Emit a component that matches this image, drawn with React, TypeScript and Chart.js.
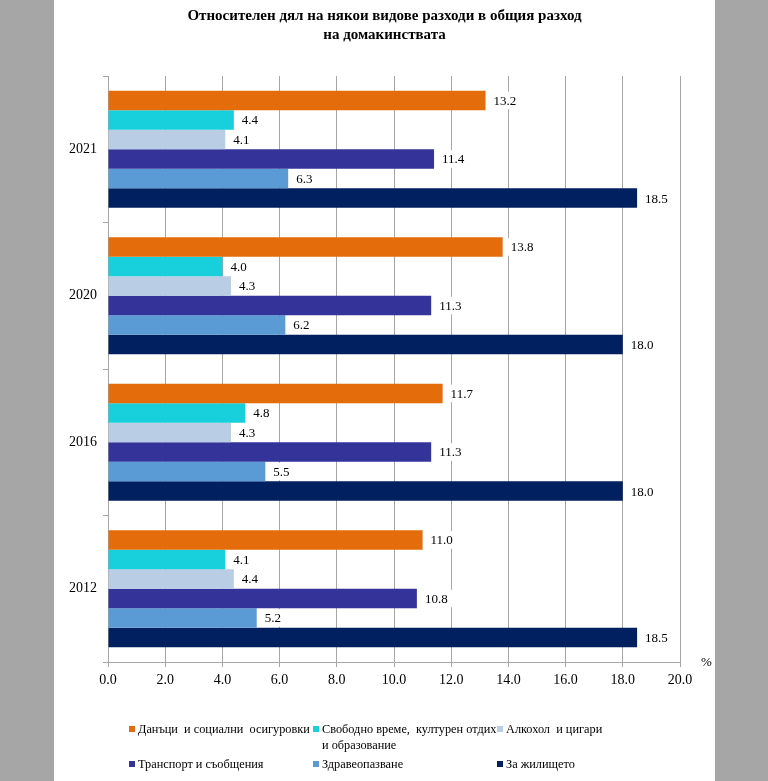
import React, { useEffect, useRef } from "react";
import { Chart, registerables } from "chart.js";

Chart.register(...registerables);

const categories = ["2021", "2020", "2016", "2012"];
const seriesNames = [
  "Данъци  и социални  осигуровки",
  "Свободно време,  културен отдих\nи образование",
  "Алкохол  и цигари",
  "Транспорт и съобщения",
  "Здравеопазване",
  "За жилището",
];
const seriesColors = ["#E46C0A", "#17D0DB", "#B9CDE5", "#333399", "#5B9BD5", "#002060"];
const taxes = [13.2, 13.8, 11.7, 11.0];
const leisure = [4.4, 4.0, 4.8, 4.1];
const alcohol = [4.1, 4.3, 4.3, 4.4];
const transport = [11.4, 11.3, 11.3, 10.8];
const health = [6.3, 6.2, 5.5, 5.2];
const housing = [18.5, 18.0, 18.0, 18.5];
const titleLines = ["Относителен дял на някои видове разходи в общия разход", "на домакинствата"];
const axisUnit = "%";
const xMin = 0;
const xMax = 20;
const xStep = 2;

const FONT = "'Liberation Serif', 'Times New Roman', serif";
const GRID = "#A6A6A6";

const W = 661;
const H = 781;

const decorPlugin = {
  id: "decor",
  beforeDraw(chart: any) {
    const ctx = chart.ctx;
    ctx.save();
    ctx.fillStyle = "#ffffff";
    ctx.fillRect(0, 0, chart.width, chart.height);
    ctx.restore();
  },
  afterDatasetsDraw(chart: any) {
    const ctx = chart.ctx;
    ctx.save();
    ctx.font = `13px ${FONT}`;
    ctx.textBaseline = "middle";
    ctx.textAlign = "left";
    chart.data.datasets.forEach((ds: any, di: number) => {
      const meta = chart.getDatasetMeta(di);
      meta.data.forEach((el: any, i: number) => {
        const v = ds.data[i];
        const txt = Number(v).toFixed(1);
        const tw = ctx.measureText(txt).width;
        const x = el.x;
        const y = el.y;
        const h = el.height;
        ctx.fillStyle = "#ffffff";
        ctx.fillRect(x + 1, y - h / 2 + 1, tw + 14, h - 2);
        ctx.fillStyle = "#000000";
        ctx.fillText(txt, x + 8, y + 1);
      });
    });
    ctx.restore();
  },
  afterDraw(chart: any) {
    const ctx = chart.ctx;
    ctx.save();
    // title
    ctx.fillStyle = "#000000";
    ctx.font = `bold 15px ${FONT}`;
    ctx.textAlign = "center";
    ctx.textBaseline = "middle";
    titleLines.forEach((t, i) => ctx.fillText(t, W / 2, 16 + i * 19));
    // unit label
    ctx.font = `13px ${FONT}`;
    ctx.textAlign = "left";
    ctx.fillText(axisUnit, chart.chartArea.right + 21, chart.chartArea.bottom + 1);
    // legend
    const colX = [75, 259, 443];
    const rowY = [729, 764];
    ctx.font = `12.3px ${FONT}`;
    seriesNames.forEach((name, i) => {
      const cx = colX[i % 3];
      const cy = rowY[Math.floor(i / 3)];
      ctx.fillStyle = seriesColors[i];
      ctx.fillRect(cx, cy - 3, 6, 6);
      ctx.fillStyle = "#000000";
      name.split("\n").forEach((line, li) => {
        ctx.fillText(line, cx + 9, cy + li * 16 + 1);
      });
    });
    ctx.restore();
  },
};

export default function App() {
  const ref = useRef<HTMLCanvasElement | null>(null);
  useEffect(() => {
    if (!ref.current) return;
    const series = [taxes, leisure, alcohol, transport, health, housing];
    const chart = new Chart(ref.current, {
      type: "bar",
      data: {
        labels: categories,
        datasets: series.map((d, i) => ({
          label: seriesNames[i].replace("\n", " "),
          data: d,
          backgroundColor: seriesColors[i],
          borderWidth: 0,
          categoryPercentage: 0.8,
          barPercentage: 1.0,
        })),
      },
      options: {
        indexAxis: "y",
        responsive: false,
        animation: false,
        devicePixelRatio: 1,
        layout: { padding: { left: 0, right: 35, top: 76, bottom: 89 } },
        plugins: {
          legend: { display: false },
          title: { display: false },
          tooltip: { enabled: false },
        },
        scales: {
          x: {
            min: xMin,
            max: xMax,
            afterFit: (s: any) => {
              s.height = 30;
            },
            ticks: {
              stepSize: xStep,
              color: "#000000",
              font: { family: FONT, size: 14 },
              padding: 5,
              callback: (v: any) => Number(v).toFixed(1),
            },
            grid: { color: GRID, lineWidth: 1, tickLength: 5, drawTicks: true },
            border: { color: GRID, width: 1 },
          },
          y: {
            afterFit: (s: any) => {
              s.width = 54;
            },
            ticks: {
              color: "#000000",
              font: { family: FONT, size: 14 },
              padding: 6,
            },
            grid: { drawOnChartArea: false, color: GRID, tickLength: 5, offset: true },
            border: { color: GRID, width: 1 },
          },
        },
      },
      plugins: [decorPlugin],
    } as any);
    return () => chart.destroy();
  }, []);
  return (
    <div
      style={{
        position: "absolute",
        left: 0,
        top: 0,
        width: 768,
        height: 781,
        background: "#A6A6A6",
        overflow: "hidden",
      }}
    >
      <canvas
        ref={ref}
        width={W}
        height={H}
        style={{ position: "absolute", left: 54, top: 0, width: W, height: H, background: "#fff" }}
      />
    </div>
  );
}
